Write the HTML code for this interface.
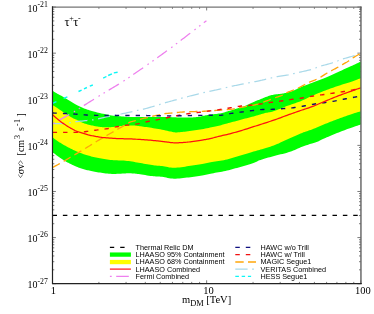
<!DOCTYPE html>
<html><head><meta charset="utf-8"><title>chart</title>
<style>
html,body{margin:0;padding:0;background:#fff;}
#c{position:relative;width:374px;height:314px;overflow:hidden;background:#fff;font-family:"Liberation Serif",serif;color:#000;}
.yt{position:absolute;right:326.2px;font-size:10px;line-height:12px;white-space:nowrap;}
.sup{font-size:7.8px;position:relative;top:-4.8px;}
.xt{position:absolute;top:285.1px;width:20px;text-align:center;font-size:10.5px;line-height:12px;}
.lg{position:absolute;font-family:"Liberation Sans",sans-serif;font-size:7.26px;line-height:9px;white-space:nowrap;}
#xl{position:absolute;left:156.6px;width:100px;text-align:center;top:294px;font-size:10.5px;line-height:12px;}
#xl sub{font-size:8.4px;vertical-align:baseline;position:relative;top:2.8px;}
#yl{position:absolute;left:15px;top:177.6px;width:100px;height:12px;font-size:10px;line-height:12px;transform-origin:0 0;transform:rotate(-90deg);white-space:nowrap;}
#yl sup{font-size:8px;vertical-align:baseline;position:relative;top:-4.2px;line-height:0;}
#t{position:absolute;left:0;top:0;width:374px;height:314px;will-change:transform;}
.ab{display:inline-block;width:3.7px;transform:scaleX(0.66);transform-origin:0 50%;}
#tau{position:absolute;left:64.4px;top:15.6px;font-size:12.5px;line-height:12px;}
#tau sup{font-size:8px;vertical-align:baseline;position:relative;top:-5px;line-height:0;margin-left:-0.3px;margin-right:-0.3px;}
</style></head><body>
<div id="c">
<svg width="374" height="314" viewBox="0 0 374 314" style="position:absolute;left:0;top:0">
<path d="M52.50,283.7 v-3.4 M52.50,7.05 v3.4 M98.90,283.7 v-1.8 M98.90,7.05 v1.8 M126.05,283.7 v-1.8 M126.05,7.05 v1.8 M145.31,283.7 v-1.8 M145.31,7.05 v1.8 M160.25,283.7 v-1.8 M160.25,7.05 v1.8 M172.45,283.7 v-1.8 M172.45,7.05 v1.8 M182.77,283.7 v-1.8 M182.77,7.05 v1.8 M191.71,283.7 v-1.8 M191.71,7.05 v1.8 M199.60,283.7 v-1.8 M199.60,7.05 v1.8 M206.65,283.7 v-3.4 M206.65,7.05 v3.4 M253.05,283.7 v-1.8 M253.05,7.05 v1.8 M280.20,283.7 v-1.8 M280.20,7.05 v1.8 M299.46,283.7 v-1.8 M299.46,7.05 v1.8 M314.40,283.7 v-1.8 M314.40,7.05 v1.8 M326.60,283.7 v-1.8 M326.60,7.05 v1.8 M336.92,283.7 v-1.8 M336.92,7.05 v1.8 M345.86,283.7 v-1.8 M345.86,7.05 v1.8 M353.75,283.7 v-1.8 M353.75,7.05 v1.8 M360.8,283.7 v-3.4 M360.8,7.05 v3.4 M52.5,283.70 h3.4 M360.8,283.70 h-3.4 M52.5,269.82 h1.8 M360.8,269.82 h-1.8 M52.5,261.70 h1.8 M360.8,261.70 h-1.8 M52.5,255.94 h1.8 M360.8,255.94 h-1.8 M52.5,251.47 h1.8 M360.8,251.47 h-1.8 M52.5,247.82 h1.8 M360.8,247.82 h-1.8 M52.5,244.73 h1.8 M360.8,244.73 h-1.8 M52.5,242.06 h1.8 M360.8,242.06 h-1.8 M52.5,239.70 h1.8 M360.8,239.70 h-1.8 M52.5,237.59 h3.4 M360.8,237.59 h-3.4 M52.5,223.71 h1.8 M360.8,223.71 h-1.8 M52.5,215.59 h1.8 M360.8,215.59 h-1.8 M52.5,209.83 h1.8 M360.8,209.83 h-1.8 M52.5,205.36 h1.8 M360.8,205.36 h-1.8 M52.5,201.71 h1.8 M360.8,201.71 h-1.8 M52.5,198.63 h1.8 M360.8,198.63 h-1.8 M52.5,195.95 h1.8 M360.8,195.95 h-1.8 M52.5,193.59 h1.8 M360.8,193.59 h-1.8 M52.5,191.48 h3.4 M360.8,191.48 h-3.4 M52.5,177.60 h1.8 M360.8,177.60 h-1.8 M52.5,169.48 h1.8 M360.8,169.48 h-1.8 M52.5,163.72 h1.8 M360.8,163.72 h-1.8 M52.5,159.25 h1.8 M360.8,159.25 h-1.8 M52.5,155.60 h1.8 M360.8,155.60 h-1.8 M52.5,152.52 h1.8 M360.8,152.52 h-1.8 M52.5,149.84 h1.8 M360.8,149.84 h-1.8 M52.5,147.48 h1.8 M360.8,147.48 h-1.8 M52.5,145.38 h3.4 M360.8,145.38 h-3.4 M52.5,131.50 h1.8 M360.8,131.50 h-1.8 M52.5,123.38 h1.8 M360.8,123.38 h-1.8 M52.5,117.62 h1.8 M360.8,117.62 h-1.8 M52.5,113.15 h1.8 M360.8,113.15 h-1.8 M52.5,109.50 h1.8 M360.8,109.50 h-1.8 M52.5,106.41 h1.8 M360.8,106.41 h-1.8 M52.5,103.74 h1.8 M360.8,103.74 h-1.8 M52.5,101.38 h1.8 M360.8,101.38 h-1.8 M52.5,99.27 h3.4 M360.8,99.27 h-3.4 M52.5,85.39 h1.8 M360.8,85.39 h-1.8 M52.5,77.27 h1.8 M360.8,77.27 h-1.8 M52.5,71.51 h1.8 M360.8,71.51 h-1.8 M52.5,67.04 h1.8 M360.8,67.04 h-1.8 M52.5,63.39 h1.8 M360.8,63.39 h-1.8 M52.5,60.30 h1.8 M360.8,60.30 h-1.8 M52.5,57.63 h1.8 M360.8,57.63 h-1.8 M52.5,55.27 h1.8 M360.8,55.27 h-1.8 M52.5,53.16 h3.4 M360.8,53.16 h-3.4 M52.5,39.28 h1.8 M360.8,39.28 h-1.8 M52.5,31.16 h1.8 M360.8,31.16 h-1.8 M52.5,25.40 h1.8 M360.8,25.40 h-1.8 M52.5,20.93 h1.8 M360.8,20.93 h-1.8 M52.5,17.28 h1.8 M360.8,17.28 h-1.8 M52.5,14.19 h1.8 M360.8,14.19 h-1.8 M52.5,11.52 h1.8 M360.8,11.52 h-1.8 M52.5,9.16 h1.8 M360.8,9.16 h-1.8 M52.5,7.05 h3.4 M360.8,7.05 h-3.4" stroke="#222" stroke-width="0.6" fill="none"/>
<path d="M52.50,90.80 L52.83,91.00 L53.26,91.27 L53.77,91.58 L54.35,91.93 L54.98,92.31 L55.64,92.71 L56.32,93.11 L57.00,93.50 L57.71,93.90 L58.46,94.31 L59.25,94.73 L60.07,95.17 L60.90,95.62 L61.74,96.07 L62.58,96.53 L63.40,97.00 L64.21,97.48 L65.03,97.96 L65.86,98.46 L66.68,98.97 L67.51,99.48 L68.34,99.99 L69.17,100.50 L70.00,101.00 L70.82,101.50 L71.63,102.00 L72.43,102.51 L73.24,103.01 L74.07,103.51 L74.91,104.01 L75.79,104.51 L76.70,105.00 L77.68,105.50 L78.74,106.02 L79.84,106.54 L80.95,107.05 L82.05,107.54 L83.11,108.01 L84.10,108.43 L85.00,108.80 L85.77,109.10 L86.43,109.34 L87.01,109.53 L87.55,109.69 L88.09,109.85 L88.67,110.00 L89.33,110.18 L90.10,110.40 L90.95,110.65 L91.83,110.92 L92.76,111.19 L93.74,111.48 L94.78,111.78 L95.90,112.08 L97.10,112.39 L98.40,112.70 L99.82,113.03 L101.37,113.38 L103.02,113.74 L104.73,114.11 L106.49,114.47 L108.25,114.81 L110.00,115.13 L111.70,115.40 L113.39,115.64 L115.13,115.84 L116.87,116.03 L118.61,116.19 L120.33,116.34 L121.99,116.47 L123.59,116.59 L125.10,116.70 L126.47,116.80 L127.70,116.88 L128.84,116.94 L129.95,116.99 L131.07,117.03 L132.25,117.06 L133.54,117.08 L135.00,117.10 L136.60,117.11 L138.27,117.11 L140.03,117.09 L141.87,117.07 L143.78,117.04 L145.78,117.02 L147.85,117.01 L150.00,117.00 L152.31,117.00 L154.80,117.00 L157.42,117.01 L160.10,117.01 L162.76,117.02 L165.35,117.04 L167.78,117.07 L170.00,117.10 L171.99,117.15 L173.82,117.22 L175.51,117.30 L177.12,117.39 L178.67,117.47 L180.21,117.54 L181.77,117.58 L183.40,117.60 L185.11,117.59 L186.89,117.56 L188.68,117.52 L190.47,117.46 L192.20,117.39 L193.84,117.30 L195.35,117.21 L196.70,117.10 L197.85,116.98 L198.84,116.83 L199.70,116.67 L200.46,116.49 L201.18,116.32 L201.88,116.14 L202.61,115.96 L203.40,115.80 L204.22,115.65 L205.00,115.49 L205.77,115.34 L206.55,115.19 L207.35,115.05 L208.20,114.90 L209.11,114.75 L210.10,114.60 L211.19,114.46 L212.39,114.33 L213.64,114.20 L214.94,114.07 L216.26,113.93 L217.56,113.78 L218.81,113.60 L220.00,113.40 L221.09,113.18 L222.09,112.94 L223.04,112.69 L223.99,112.42 L224.96,112.14 L225.99,111.82 L227.13,111.48 L228.40,111.10 L229.87,110.67 L231.54,110.19 L233.32,109.67 L235.16,109.12 L236.98,108.58 L238.72,108.05 L240.32,107.55 L241.70,107.10 L242.85,106.70 L243.84,106.34 L244.70,106.01 L245.46,105.69 L246.18,105.38 L246.88,105.07 L247.61,104.75 L248.40,104.40 L249.25,104.02 L250.12,103.62 L250.99,103.21 L251.86,102.80 L252.72,102.39 L253.55,102.00 L254.35,101.63 L255.10,101.30 L255.79,101.01 L256.41,100.76 L256.99,100.53 L257.55,100.33 L258.11,100.12 L258.69,99.90 L259.31,99.67 L260.00,99.40 L260.75,99.10 L261.55,98.76 L262.38,98.42 L263.24,98.06 L264.11,97.70 L264.98,97.34 L265.85,97.01 L266.70,96.70 L267.54,96.41 L268.38,96.12 L269.22,95.85 L270.06,95.58 L270.89,95.33 L271.73,95.10 L272.57,94.89 L273.40,94.70 L274.23,94.55 L275.05,94.43 L275.88,94.33 L276.70,94.25 L277.52,94.18 L278.35,94.10 L279.17,94.01 L280.00,93.90 L280.83,93.77 L281.67,93.65 L282.51,93.51 L283.34,93.38 L284.18,93.23 L285.02,93.07 L285.86,92.89 L286.70,92.70 L287.54,92.50 L288.38,92.29 L289.21,92.07 L290.05,91.83 L290.89,91.58 L291.72,91.31 L292.56,91.02 L293.40,90.70 L294.22,90.35 L295.00,89.98 L295.77,89.58 L296.55,89.16 L297.35,88.73 L298.20,88.29 L299.11,87.85 L300.10,87.40 L301.15,86.96 L302.22,86.53 L303.34,86.10 L304.51,85.66 L305.74,85.19 L307.06,84.70 L308.48,84.17 L310.00,83.60 L311.68,82.97 L313.51,82.30 L315.46,81.58 L317.49,80.84 L319.54,80.08 L321.57,79.32 L323.54,78.55 L325.40,77.80 L327.16,77.05 L328.87,76.29 L330.54,75.53 L332.17,74.76 L333.80,73.99 L335.42,73.22 L337.05,72.46 L338.70,71.70 L340.40,70.93 L342.15,70.15 L343.92,69.36 L345.69,68.58 L347.41,67.81 L349.08,67.07 L350.65,66.36 L352.10,65.70 L353.47,65.06 L354.81,64.43 L356.09,63.81 L357.29,63.23 L358.38,62.69 L359.35,62.21 L360.16,61.81 L360.80,61.50 L360.80,124.50 L360.16,124.71 L359.35,124.97 L358.38,125.28 L357.29,125.64 L356.09,126.03 L354.81,126.46 L353.47,126.92 L352.10,127.40 L350.65,127.92 L349.08,128.49 L347.41,129.10 L345.69,129.74 L343.92,130.40 L342.15,131.07 L340.40,131.74 L338.70,132.40 L337.00,133.07 L335.25,133.78 L333.48,134.50 L331.72,135.22 L330.00,135.93 L328.36,136.63 L326.81,137.29 L325.40,137.90 L324.12,138.48 L322.94,139.04 L321.86,139.58 L320.85,140.09 L319.90,140.58 L319.01,141.02 L318.14,141.43 L317.30,141.80 L316.53,142.10 L315.89,142.32 L315.31,142.49 L314.76,142.63 L314.20,142.77 L313.58,142.93 L312.86,143.13 L312.00,143.40 L311.00,143.73 L309.90,144.09 L308.72,144.47 L307.48,144.89 L306.18,145.33 L304.84,145.80 L303.47,146.29 L302.10,146.80 L300.71,147.36 L299.30,147.96 L297.85,148.60 L296.37,149.26 L294.85,149.93 L293.28,150.58 L291.67,151.21 L290.00,151.80 L288.25,152.35 L286.41,152.88 L284.50,153.39 L282.56,153.89 L280.61,154.37 L278.68,154.85 L276.80,155.33 L275.00,155.80 L273.26,156.27 L271.54,156.72 L269.84,157.16 L268.18,157.60 L266.56,158.04 L264.99,158.48 L263.46,158.93 L262.00,159.40 L260.64,159.88 L259.39,160.37 L258.21,160.87 L257.07,161.38 L255.93,161.88 L254.75,162.39 L253.48,162.90 L252.10,163.40 L250.59,163.90 L248.99,164.41 L247.33,164.92 L245.61,165.43 L243.87,165.93 L242.12,166.43 L240.39,166.92 L238.70,167.40 L237.03,167.88 L235.37,168.36 L233.71,168.83 L232.05,169.30 L230.39,169.76 L228.73,170.19 L227.07,170.61 L225.40,171.00 L223.71,171.36 L221.98,171.69 L220.23,172.01 L218.49,172.30 L216.77,172.58 L215.11,172.86 L213.51,173.13 L212.00,173.40 L210.62,173.67 L209.36,173.93 L208.18,174.18 L207.05,174.43 L205.92,174.67 L204.74,174.91 L203.48,175.15 L202.10,175.40 L200.60,175.65 L199.03,175.92 L197.39,176.18 L195.70,176.44 L193.97,176.70 L192.22,176.95 L190.46,177.18 L188.70,177.40 L186.91,177.62 L185.05,177.85 L183.16,178.08 L181.26,178.29 L179.37,178.48 L177.52,178.62 L175.72,178.70 L174.00,178.70 L172.36,178.61 L170.76,178.42 L169.21,178.17 L167.70,177.88 L166.23,177.57 L164.79,177.27 L163.38,177.00 L162.00,176.80 L160.69,176.66 L159.46,176.57 L158.29,176.51 L157.14,176.46 L155.98,176.40 L154.77,176.34 L153.49,176.24 L152.10,176.10 L150.55,175.90 L148.84,175.66 L147.04,175.39 L145.20,175.10 L143.39,174.81 L141.66,174.54 L140.08,174.30 L138.70,174.10 L137.54,173.95 L136.55,173.82 L135.69,173.71 L134.92,173.62 L134.21,173.55 L133.51,173.50 L132.79,173.45 L132.00,173.40 L131.22,173.36 L130.50,173.34 L129.82,173.33 L129.12,173.33 L128.37,173.33 L127.53,173.35 L126.55,173.37 L125.40,173.40 L124.04,173.45 L122.50,173.53 L120.81,173.63 L119.04,173.73 L117.22,173.82 L115.41,173.89 L113.65,173.92 L112.00,173.90 L110.42,173.83 L108.85,173.71 L107.31,173.57 L105.78,173.39 L104.28,173.20 L102.82,173.00 L101.39,172.80 L100.00,172.60 L98.64,172.40 L97.31,172.19 L96.01,171.96 L94.74,171.73 L93.52,171.50 L92.33,171.26 L91.19,171.03 L90.10,170.80 L89.07,170.58 L88.11,170.36 L87.20,170.14 L86.33,169.92 L85.48,169.70 L84.65,169.48 L83.83,169.24 L83.00,169.00 L82.18,168.75 L81.38,168.50 L80.60,168.24 L79.83,167.98 L79.06,167.71 L78.28,167.42 L77.50,167.12 L76.70,166.80 L75.88,166.46 L75.05,166.10 L74.21,165.73 L73.37,165.34 L72.52,164.94 L71.68,164.53 L70.84,164.12 L70.00,163.70 L69.17,163.28 L68.33,162.85 L67.49,162.41 L66.65,161.96 L65.82,161.51 L65.00,161.05 L64.19,160.58 L63.40,160.10 L62.62,159.61 L61.85,159.11 L61.10,158.59 L60.35,158.07 L59.62,157.55 L58.90,157.03 L58.19,156.51 L57.50,156.00 L56.80,155.47 L56.07,154.90 L55.34,154.32 L54.63,153.74 L53.97,153.20 L53.38,152.72 L52.88,152.31 L52.50,152.00 Z" fill="#00ff00"/>
<path d="M52.50,105.00 L52.81,105.19 L53.21,105.44 L53.69,105.74 L54.23,106.07 L54.80,106.42 L55.39,106.79 L55.96,107.15 L56.50,107.50 L57.02,107.84 L57.53,108.19 L58.05,108.54 L58.57,108.89 L59.11,109.26 L59.65,109.63 L60.22,110.01 L60.80,110.40 L61.40,110.80 L62.02,111.21 L62.66,111.63 L63.31,112.05 L63.97,112.48 L64.64,112.92 L65.32,113.36 L66.00,113.80 L66.69,114.26 L67.41,114.74 L68.13,115.23 L68.86,115.72 L69.59,116.20 L70.31,116.67 L71.02,117.10 L71.70,117.50 L72.35,117.85 L72.96,118.15 L73.55,118.42 L74.14,118.67 L74.73,118.93 L75.35,119.19 L76.00,119.47 L76.70,119.80 L77.45,120.17 L78.22,120.58 L79.02,121.01 L79.84,121.45 L80.70,121.89 L81.57,122.32 L82.47,122.73 L83.40,123.10 L84.37,123.44 L85.40,123.77 L86.47,124.08 L87.55,124.38 L88.63,124.65 L89.70,124.92 L90.73,125.17 L91.70,125.40 L92.61,125.62 L93.49,125.81 L94.33,125.99 L95.16,126.16 L95.97,126.31 L96.77,126.45 L97.58,126.58 L98.40,126.70 L99.23,126.81 L100.05,126.92 L100.88,127.01 L101.70,127.09 L102.52,127.16 L103.35,127.22 L104.17,127.27 L105.00,127.30 L105.83,127.32 L106.67,127.32 L107.51,127.31 L108.34,127.29 L109.18,127.25 L110.02,127.21 L110.86,127.16 L111.70,127.10 L112.54,127.03 L113.38,126.94 L114.21,126.84 L115.05,126.73 L115.89,126.62 L116.73,126.51 L117.56,126.40 L118.40,126.30 L119.25,126.20 L120.12,126.11 L120.99,126.01 L121.86,125.91 L122.72,125.82 L123.55,125.74 L124.35,125.66 L125.10,125.60 L125.80,125.55 L126.45,125.51 L127.06,125.47 L127.66,125.44 L128.23,125.42 L128.81,125.41 L129.40,125.40 L130.00,125.40 L130.60,125.40 L131.16,125.40 L131.72,125.41 L132.28,125.42 L132.87,125.44 L133.51,125.48 L134.21,125.53 L135.00,125.60 L135.85,125.69 L136.75,125.79 L137.69,125.91 L138.68,126.04 L139.74,126.18 L140.88,126.34 L142.09,126.51 L143.40,126.70 L144.83,126.90 L146.38,127.12 L148.03,127.35 L149.74,127.60 L151.50,127.86 L153.26,128.13 L155.00,128.41 L156.70,128.70 L158.42,129.02 L160.21,129.37 L162.04,129.74 L163.85,130.11 L165.60,130.48 L167.24,130.83 L168.72,131.14 L170.00,131.40 L171.03,131.62 L171.82,131.81 L172.45,131.97 L172.97,132.11 L173.46,132.22 L173.97,132.30 L174.56,132.36 L175.30,132.40 L176.14,132.41 L177.01,132.39 L177.90,132.34 L178.85,132.27 L179.86,132.18 L180.94,132.06 L182.12,131.94 L183.40,131.80 L184.81,131.65 L186.36,131.47 L188.00,131.28 L189.72,131.07 L191.48,130.84 L193.25,130.61 L195.00,130.36 L196.70,130.10 L198.39,129.82 L200.12,129.52 L201.87,129.21 L203.61,128.88 L205.33,128.55 L206.99,128.22 L208.59,127.90 L210.10,127.60 L211.52,127.31 L212.86,127.03 L214.13,126.76 L215.36,126.49 L216.55,126.22 L217.71,125.95 L218.86,125.68 L220.00,125.40 L221.09,125.13 L222.09,124.86 L223.04,124.60 L223.99,124.34 L224.96,124.06 L225.99,123.77 L227.13,123.45 L228.40,123.10 L229.83,122.71 L231.38,122.29 L233.02,121.84 L234.74,121.38 L236.49,120.90 L238.25,120.42 L240.00,119.95 L241.70,119.50 L243.39,119.05 L245.12,118.60 L246.87,118.15 L248.61,117.71 L250.33,117.26 L251.99,116.83 L253.59,116.41 L255.10,116.00 L256.52,115.60 L257.86,115.21 L259.13,114.82 L260.36,114.44 L261.55,114.08 L262.71,113.73 L263.86,113.41 L265.00,113.10 L266.09,112.85 L267.09,112.65 L268.04,112.49 L268.99,112.34 L269.96,112.18 L270.99,111.96 L272.13,111.68 L273.40,111.30 L274.83,110.81 L276.38,110.23 L278.02,109.58 L279.74,108.88 L281.49,108.16 L283.25,107.44 L285.00,106.75 L286.70,106.10 L288.38,105.49 L290.08,104.91 L291.78,104.34 L293.49,103.77 L295.18,103.20 L296.85,102.62 L298.50,102.02 L300.10,101.40 L301.65,100.75 L303.15,100.08 L304.61,99.40 L306.05,98.70 L307.49,98.00 L308.95,97.29 L310.45,96.59 L312.00,95.90 L313.60,95.21 L315.25,94.51 L316.92,93.80 L318.61,93.10 L320.32,92.40 L322.02,91.72 L323.72,91.05 L325.40,90.40 L327.07,89.77 L328.73,89.16 L330.39,88.56 L332.05,87.98 L333.71,87.40 L335.37,86.83 L337.03,86.26 L338.70,85.70 L340.40,85.14 L342.15,84.57 L343.92,84.01 L345.69,83.46 L347.41,82.91 L349.08,82.39 L350.65,81.88 L352.10,81.40 L353.47,80.93 L354.81,80.45 L356.09,79.98 L357.29,79.53 L358.38,79.12 L359.35,78.75 L360.16,78.44 L360.80,78.20 L360.80,111.20 L360.16,111.40 L359.35,111.66 L358.38,111.96 L357.29,112.31 L356.09,112.69 L354.81,113.10 L353.47,113.54 L352.10,114.00 L350.65,114.49 L349.08,115.03 L347.41,115.61 L345.69,116.21 L343.92,116.82 L342.15,117.45 L340.40,118.08 L338.70,118.70 L337.03,119.31 L335.37,119.94 L333.71,120.56 L332.05,121.19 L330.39,121.83 L328.73,122.48 L327.07,123.14 L325.40,123.80 L323.71,124.49 L321.97,125.21 L320.23,125.96 L318.49,126.70 L316.77,127.43 L315.11,128.14 L313.51,128.80 L312.00,129.40 L310.62,129.92 L309.36,130.37 L308.18,130.77 L307.05,131.14 L305.92,131.51 L304.74,131.91 L303.48,132.37 L302.10,132.90 L300.59,133.51 L298.99,134.18 L297.33,134.89 L295.61,135.64 L293.87,136.40 L292.12,137.17 L290.39,137.94 L288.70,138.70 L287.03,139.46 L285.37,140.24 L283.71,141.04 L282.05,141.84 L280.39,142.62 L278.73,143.39 L277.07,144.12 L275.40,144.80 L273.71,145.44 L271.97,146.06 L270.23,146.64 L268.49,147.21 L266.77,147.74 L265.11,148.25 L263.51,148.74 L262.00,149.20 L260.62,149.62 L259.36,149.98 L258.18,150.31 L257.05,150.62 L255.92,150.93 L254.74,151.25 L253.48,151.60 L252.10,152.00 L250.59,152.44 L248.99,152.92 L247.33,153.42 L245.61,153.94 L243.87,154.46 L242.12,154.99 L240.39,155.50 L238.70,156.00 L237.03,156.49 L235.37,157.00 L233.71,157.51 L232.05,158.01 L230.39,158.49 L228.73,158.96 L227.07,159.40 L225.40,159.80 L223.71,160.16 L221.98,160.49 L220.23,160.79 L218.49,161.06 L216.77,161.33 L215.11,161.58 L213.51,161.84 L212.00,162.10 L210.62,162.36 L209.36,162.62 L208.18,162.87 L207.05,163.12 L205.92,163.36 L204.74,163.61 L203.48,163.85 L202.10,164.10 L200.60,164.35 L199.03,164.61 L197.39,164.86 L195.70,165.12 L193.97,165.37 L192.22,165.62 L190.46,165.86 L188.70,166.10 L186.91,166.35 L185.05,166.63 L183.16,166.91 L181.26,167.18 L179.37,167.42 L177.52,167.62 L175.72,167.75 L174.00,167.80 L172.36,167.75 L170.76,167.60 L169.21,167.38 L167.70,167.12 L166.23,166.84 L164.79,166.56 L163.38,166.30 L162.00,166.10 L160.69,165.95 L159.46,165.83 L158.29,165.74 L157.14,165.64 L155.98,165.55 L154.77,165.43 L153.49,165.29 L152.10,165.10 L150.59,164.86 L148.99,164.59 L147.33,164.28 L145.61,163.96 L143.87,163.63 L142.12,163.30 L140.39,162.99 L138.70,162.70 L137.03,162.42 L135.37,162.14 L133.71,161.86 L132.05,161.59 L130.39,161.33 L128.73,161.09 L127.07,160.88 L125.40,160.70 L123.72,160.57 L122.02,160.48 L120.32,160.43 L118.62,160.39 L116.93,160.35 L115.25,160.30 L113.61,160.22 L112.00,160.10 L110.42,159.94 L108.85,159.74 L107.31,159.53 L105.78,159.30 L104.28,159.06 L102.82,158.81 L101.39,158.55 L100.00,158.30 L98.64,158.04 L97.31,157.78 L96.01,157.50 L94.74,157.22 L93.52,156.94 L92.33,156.66 L91.19,156.38 L90.10,156.10 L89.07,155.83 L88.11,155.56 L87.20,155.29 L86.33,155.02 L85.48,154.75 L84.65,154.47 L83.83,154.19 L83.00,153.90 L82.18,153.61 L81.38,153.31 L80.60,153.01 L79.83,152.71 L79.06,152.39 L78.28,152.07 L77.50,151.74 L76.70,151.40 L75.88,151.04 L75.05,150.68 L74.21,150.30 L73.37,149.92 L72.52,149.53 L71.68,149.12 L70.84,148.72 L70.00,148.30 L69.17,147.87 L68.33,147.44 L67.49,146.99 L66.65,146.54 L65.82,146.08 L65.00,145.62 L64.19,145.16 L63.40,144.70 L62.62,144.24 L61.85,143.78 L61.10,143.32 L60.35,142.86 L59.62,142.39 L58.90,141.93 L58.19,141.46 L57.50,141.00 L56.80,140.51 L56.07,139.99 L55.34,139.45 L54.63,138.92 L53.97,138.42 L53.38,137.96 L52.88,137.59 L52.50,137.30 Z" fill="#ffff00"/>
<path d="M52.50,123.60 L53.53,123.60 L54.95,123.60 L56.65,123.60 L58.51,123.61 L60.41,123.60 L62.24,123.58 L63.88,123.55 L65.20,123.50 L66.22,123.43 L67.06,123.33 L67.76,123.22 L68.36,123.10 L68.90,122.97 L69.42,122.84 L69.97,122.72 L70.60,122.60 L71.23,122.49 L71.80,122.38 L72.34,122.28 L72.89,122.18 L73.50,122.07 L74.19,121.95 L75.01,121.83 L76.00,121.70 L77.22,121.55 L78.67,121.39 L80.27,121.21 L81.95,121.03 L83.63,120.85 L85.23,120.69 L86.68,120.53 L87.90,120.40 L88.88,120.29 L89.70,120.21 L90.39,120.15 L90.99,120.09 L91.54,120.03 L92.08,119.97 L92.66,119.89 L93.30,119.80 L93.97,119.70 L94.60,119.59 L95.23,119.48 L95.86,119.36 L96.53,119.23 L97.27,119.08 L98.08,118.90 L99.00,118.70 L100.03,118.46 L101.15,118.19 L102.34,117.89 L103.60,117.57 L104.91,117.25 L106.25,116.92 L107.62,116.60 L109.00,116.30 L110.42,116.01 L111.89,115.72 L113.41,115.43 L114.96,115.15 L116.52,114.87 L118.08,114.58 L119.61,114.29 L121.10,114.00 L122.60,113.70 L124.15,113.38 L125.71,113.05 L127.25,112.73 L128.73,112.42 L130.12,112.12 L131.39,111.84 L132.50,111.60 L133.42,111.39 L134.16,111.22 L134.77,111.06 L135.29,110.92 L135.77,110.80 L136.25,110.67 L136.78,110.54 L137.40,110.40 L138.06,110.26 L138.70,110.15 L139.34,110.04 L140.00,109.93 L140.71,109.80 L141.50,109.64 L142.39,109.45 L143.40,109.20 L144.60,108.88 L145.99,108.50 L147.51,108.08 L149.09,107.62 L150.67,107.17 L152.17,106.73 L153.54,106.34 L154.70,106.00 L155.65,105.72 L156.44,105.49 L157.12,105.29 L157.72,105.11 L158.27,104.94 L158.81,104.77 L159.37,104.59 L160.00,104.40 L160.63,104.20 L161.22,104.01 L161.79,103.82 L162.37,103.63 L162.99,103.43 L163.68,103.21 L164.48,102.97 L165.40,102.70 L166.45,102.40 L167.60,102.08 L168.84,101.74 L170.16,101.38 L171.55,101.01 L172.99,100.62 L174.48,100.21 L176.00,99.80 L177.58,99.37 L179.24,98.91 L180.96,98.44 L182.72,97.95 L184.53,97.46 L186.35,96.96 L188.18,96.48 L190.00,96.00 L191.86,95.52 L193.80,95.03 L195.77,94.53 L197.75,94.04 L199.70,93.57 L201.58,93.11 L203.36,92.69 L205.00,92.30 L206.52,91.95 L207.96,91.64 L209.32,91.36 L210.61,91.09 L211.81,90.85 L212.95,90.62 L214.01,90.41 L215.00,90.20 L215.88,90.01 L216.64,89.84 L217.30,89.70 L217.89,89.56 L218.46,89.43 L219.03,89.30 L219.63,89.16 L220.30,89.00 L221.03,88.83 L221.79,88.64 L222.56,88.45 L223.35,88.26 L224.14,88.06 L224.91,87.87 L225.67,87.68 L226.40,87.50 L227.08,87.33 L227.72,87.17 L228.33,87.01 L228.93,86.85 L229.55,86.69 L230.20,86.53 L230.91,86.37 L231.70,86.20 L232.56,86.03 L233.46,85.85 L234.40,85.68 L235.39,85.50 L236.41,85.32 L237.47,85.12 L238.57,84.92 L239.70,84.70 L240.88,84.47 L242.12,84.21 L243.41,83.95 L244.73,83.68 L246.06,83.41 L247.39,83.13 L248.71,82.86 L250.00,82.60 L251.30,82.34 L252.63,82.07 L253.98,81.81 L255.31,81.54 L256.61,81.29 L257.84,81.04 L258.98,80.81 L260.00,80.60 L260.88,80.41 L261.65,80.25 L262.31,80.10 L262.92,79.96 L263.49,79.83 L264.06,79.70 L264.65,79.55 L265.30,79.40 L266.00,79.23 L266.71,79.06 L267.44,78.88 L268.17,78.70 L268.90,78.52 L269.61,78.34 L270.32,78.17 L271.00,78.00 L271.61,77.84 L272.14,77.70 L272.62,77.56 L273.11,77.42 L273.64,77.29 L274.27,77.14 L275.04,76.98 L276.00,76.80 L277.21,76.60 L278.66,76.38 L280.28,76.15 L281.98,75.91 L283.68,75.66 L285.30,75.43 L286.77,75.21 L288.00,75.00 L288.99,74.81 L289.81,74.64 L290.51,74.48 L291.11,74.32 L291.67,74.17 L292.20,74.01 L292.77,73.86 L293.40,73.70 L294.04,73.55 L294.61,73.41 L295.17,73.27 L295.74,73.13 L296.35,72.98 L297.04,72.82 L297.85,72.62 L298.80,72.40 L299.96,72.13 L301.33,71.82 L302.83,71.49 L304.41,71.13 L305.98,70.77 L307.48,70.42 L308.84,70.10 L310.00,69.80 L310.94,69.54 L311.74,69.30 L312.42,69.07 L313.01,68.86 L313.56,68.65 L314.11,68.44 L314.67,68.22 L315.30,68.00 L315.93,67.78 L316.50,67.56 L317.06,67.35 L317.62,67.13 L318.24,66.90 L318.93,66.66 L319.74,66.40 L320.70,66.10 L321.87,65.76 L323.25,65.38 L324.76,64.98 L326.35,64.56 L327.94,64.13 L329.45,63.73 L330.83,63.34 L332.00,63.00 L332.96,62.70 L333.77,62.42 L334.46,62.17 L335.07,61.93 L335.64,61.70 L336.20,61.47 L336.77,61.24 L337.40,61.00 L338.03,60.76 L338.59,60.53 L339.13,60.31 L339.67,60.08 L340.27,59.85 L340.95,59.59 L341.75,59.31 L342.70,59.00 L343.87,58.64 L345.26,58.25 L346.79,57.82 L348.39,57.38 L350.00,56.94 L351.53,56.50 L352.92,56.08 L354.10,55.70 L355.10,55.33 L356.00,54.96 L356.80,54.59 L357.51,54.24 L358.13,53.92 L358.67,53.63 L359.12,53.39 L359.50,53.20" fill="none" stroke="#a9d9e9" stroke-width="1.25" stroke-dasharray="12.2,4.6,1.6,4.55" stroke-dashoffset="0.00"/>
<path d="M52.50,124.20 L52.95,123.92 L53.52,123.56 L54.20,123.13 L54.98,122.64 L55.82,122.12 L56.74,121.56 L57.70,120.98 L58.70,120.40 L59.80,119.78 L61.04,119.09 L62.37,118.36 L63.75,117.61 L65.12,116.87 L66.43,116.15 L67.64,115.49 L68.70,114.90 L69.60,114.39 L70.38,113.94 L71.08,113.53 L71.71,113.15 L72.31,112.79 L72.89,112.44 L73.48,112.08 L74.10,111.70 L74.75,111.31 L75.39,110.91 L76.04,110.52 L76.67,110.13 L77.29,109.74 L77.91,109.35 L78.51,108.97 L79.10,108.60 L79.63,108.26 L80.08,107.97 L80.49,107.69 L80.91,107.41 L81.36,107.11 L81.91,106.75 L82.57,106.33 L83.40,105.80 L84.45,105.14 L85.72,104.36 L87.13,103.48 L88.61,102.57 L90.10,101.65 L91.52,100.77 L92.81,99.98 L93.90,99.30 L94.78,98.75 L95.53,98.28 L96.16,97.88 L96.72,97.52 L97.23,97.19 L97.73,96.87 L98.24,96.55 L98.80,96.20 L99.39,95.84 L99.96,95.49 L100.53,95.14 L101.09,94.80 L101.65,94.46 L102.22,94.11 L102.80,93.76 L103.40,93.40 L103.98,93.05 L104.51,92.72 L105.04,92.40 L105.58,92.07 L106.17,91.71 L106.83,91.31 L107.60,90.84 L108.50,90.30 L109.60,89.64 L110.90,88.87 L112.32,88.01 L113.81,87.12 L115.29,86.24 L116.70,85.40 L117.96,84.64 L119.00,84.00 L119.81,83.50 L120.45,83.09 L120.95,82.75 L121.38,82.47 L121.76,82.21 L122.14,81.94 L122.57,81.65 L123.10,81.30 L123.71,80.91 L124.37,80.49 L125.05,80.05 L125.75,79.61 L126.45,79.17 L127.13,78.73 L127.79,78.31 L128.40,77.90 L128.93,77.54 L129.36,77.24 L129.75,76.96 L130.14,76.68 L130.56,76.37 L131.07,76.00 L131.70,75.56 L132.50,75.00 L133.53,74.29 L134.78,73.45 L136.17,72.50 L137.63,71.51 L139.10,70.52 L140.49,69.57 L141.75,68.72 L142.80,68.00 L143.63,67.43 L144.31,66.95 L144.87,66.56 L145.36,66.21 L145.79,65.90 L146.22,65.59 L146.68,65.27 L147.20,64.90 L147.76,64.51 L148.33,64.11 L148.91,63.72 L149.48,63.32 L150.06,62.92 L150.64,62.52 L151.22,62.11 L151.80,61.70 L152.36,61.30 L152.88,60.93 L153.39,60.56 L153.91,60.18 L154.45,59.78 L155.06,59.34 L155.73,58.86 L156.50,58.30 L157.37,57.68 L158.32,57.00 L159.34,56.27 L160.42,55.50 L161.54,54.70 L162.68,53.88 L163.84,53.04 L165.00,52.20 L166.18,51.34 L167.39,50.45 L168.64,49.53 L169.91,48.59 L171.18,47.65 L172.46,46.69 L173.74,45.74 L175.00,44.80 L176.25,43.86 L177.50,42.92 L178.75,41.97 L180.00,41.02 L181.25,40.07 L182.50,39.11 L183.75,38.16 L185.00,37.20 L186.24,36.25 L187.47,35.31 L188.69,34.37 L189.91,33.43 L191.15,32.47 L192.40,31.50 L193.68,30.52 L195.00,29.50 L196.44,28.39 L198.02,27.17 L199.67,25.89 L201.33,24.62 L202.90,23.40 L204.32,22.31 L205.51,21.39 L206.40,20.70" fill="none" stroke="#ee80ee" stroke-width="1.25" stroke-dasharray="12,5.3,1.6,4.3,1.6,4.4" stroke-dashoffset="21.93"/>
<path d="M52.50,167.50 L53.05,167.20 L53.76,166.82 L54.59,166.38 L55.54,165.87 L56.57,165.31 L57.67,164.70 L58.82,164.06 L60.00,163.40 L61.24,162.69 L62.58,161.91 L63.99,161.08 L65.46,160.21 L66.95,159.33 L68.46,158.44 L69.95,157.56 L71.40,156.70 L72.83,155.86 L74.27,155.02 L75.71,154.18 L77.15,153.34 L78.58,152.51 L80.01,151.67 L81.41,150.83 L82.80,150.00 L84.19,149.15 L85.60,148.28 L87.01,147.40 L88.40,146.53 L89.75,145.68 L91.05,144.86 L92.27,144.10 L93.40,143.40 L94.37,142.80 L95.16,142.31 L95.86,141.88 L96.51,141.48 L97.18,141.07 L97.94,140.61 L98.86,140.07 L100.00,139.40 L101.39,138.59 L102.98,137.67 L104.72,136.66 L106.55,135.61 L108.42,134.53 L110.27,133.47 L112.05,132.45 L113.70,131.50 L115.28,130.60 L116.86,129.69 L118.43,128.80 L119.95,127.93 L121.40,127.10 L122.76,126.33 L124.00,125.63 L125.10,125.00 L126.02,124.46 L126.77,124.01 L127.40,123.62 L127.93,123.29 L128.42,122.99 L128.90,122.72 L129.41,122.46 L130.00,122.20 L130.64,121.95 L131.29,121.74 L131.95,121.55 L132.62,121.38 L133.29,121.21 L133.96,121.05 L134.63,120.88 L135.30,120.70 L135.96,120.51 L136.60,120.31 L137.23,120.11 L137.88,119.91 L138.53,119.71 L139.21,119.51 L139.93,119.31 L140.70,119.10 L141.54,118.89 L142.47,118.67 L143.44,118.44 L144.44,118.22 L145.42,118.00 L146.36,117.79 L147.23,117.58 L148.00,117.40 L148.64,117.24 L149.17,117.09 L149.62,116.95 L150.04,116.83 L150.45,116.70 L150.89,116.58 L151.39,116.44 L152.00,116.30 L152.72,116.15 L153.52,115.99 L154.37,115.83 L155.26,115.66 L156.16,115.50 L157.05,115.33 L157.91,115.16 L158.70,115.00 L159.42,114.83 L160.08,114.66 L160.71,114.49 L161.32,114.31 L161.94,114.14 L162.60,113.98 L163.31,113.83 L164.10,113.70 L164.98,113.58 L165.92,113.49 L166.91,113.40 L167.94,113.32 L168.99,113.24 L170.05,113.17 L171.09,113.09 L172.10,113.00 L173.09,112.90 L174.06,112.80 L175.03,112.69 L176.01,112.59 L176.98,112.48 L177.97,112.38 L178.97,112.29 L180.00,112.20 L181.03,112.12 L182.04,112.05 L183.06,111.98 L184.09,111.92 L185.16,111.86 L186.27,111.80 L187.45,111.75 L188.70,111.70 L190.07,111.65 L191.56,111.61 L193.13,111.58 L194.74,111.54 L196.34,111.51 L197.90,111.48 L199.36,111.44 L200.70,111.40 L201.88,111.36 L202.95,111.32 L203.93,111.27 L204.86,111.23 L205.78,111.18 L206.72,111.13 L207.71,111.07 L208.80,111.00 L209.96,110.92 L211.16,110.83 L212.39,110.73 L213.66,110.63 L214.95,110.52 L216.27,110.42 L217.62,110.31 L219.00,110.20 L220.45,110.10 L221.98,109.99 L223.57,109.89 L225.17,109.78 L226.76,109.67 L228.28,109.56 L229.71,109.43 L231.00,109.30 L232.14,109.16 L233.16,109.01 L234.09,108.85 L234.95,108.69 L235.78,108.53 L236.62,108.36 L237.48,108.18 L238.40,108.00 L239.35,107.82 L240.28,107.64 L241.21,107.45 L242.15,107.26 L243.12,107.06 L244.15,106.85 L245.23,106.63 L246.40,106.40 L247.70,106.15 L249.15,105.89 L250.69,105.61 L252.26,105.33 L253.81,105.04 L255.29,104.76 L256.63,104.47 L257.80,104.20 L258.76,103.93 L259.56,103.68 L260.24,103.42 L260.84,103.16 L261.41,102.91 L261.98,102.64 L262.60,102.38 L263.30,102.10 L264.10,101.81 L264.95,101.50 L265.84,101.19 L266.74,100.87 L267.63,100.55 L268.49,100.25 L269.28,99.96 L270.00,99.70 L270.60,99.47 L271.10,99.27 L271.52,99.09 L271.92,98.92 L272.33,98.75 L272.78,98.56 L273.33,98.35 L274.00,98.10 L274.84,97.81 L275.81,97.50 L276.88,97.15 L278.00,96.80 L279.12,96.44 L280.19,96.08 L281.16,95.73 L282.00,95.40 L282.67,95.09 L283.22,94.79 L283.67,94.49 L284.07,94.20 L284.47,93.91 L284.90,93.61 L285.39,93.31 L286.00,93.00 L286.73,92.67 L287.55,92.33 L288.44,91.97 L289.36,91.62 L290.29,91.27 L291.19,90.93 L292.04,90.60 L292.80,90.30 L293.47,90.03 L294.06,89.80 L294.59,89.59 L295.11,89.39 L295.62,89.19 L296.15,88.96 L296.74,88.70 L297.40,88.40 L298.14,88.04 L298.95,87.65 L299.79,87.22 L300.67,86.78 L301.55,86.32 L302.43,85.86 L303.29,85.42 L304.10,85.00 L304.88,84.59 L305.65,84.18 L306.40,83.77 L307.14,83.37 L307.87,82.98 L308.59,82.60 L309.30,82.24 L310.00,81.90 L310.70,81.59 L311.38,81.31 L312.06,81.05 L312.73,80.80 L313.38,80.56 L314.03,80.32 L314.67,80.07 L315.30,79.80 L315.91,79.53 L316.49,79.27 L317.05,79.02 L317.61,78.76 L318.17,78.48 L318.75,78.19 L319.35,77.86 L320.00,77.50 L320.70,77.09 L321.44,76.63 L322.21,76.13 L323.00,75.62 L323.79,75.10 L324.56,74.60 L325.30,74.13 L326.00,73.70 L326.64,73.32 L327.22,72.99 L327.77,72.68 L328.31,72.39 L328.85,72.10 L329.41,71.79 L330.03,71.46 L330.70,71.10 L331.46,70.69 L332.29,70.24 L333.17,69.77 L334.07,69.29 L334.98,68.81 L335.85,68.35 L336.66,67.90 L337.40,67.50 L338.04,67.14 L338.59,66.83 L339.10,66.53 L339.57,66.26 L340.04,65.98 L340.53,65.68 L341.08,65.36 L341.70,65.00 L342.42,64.59 L343.21,64.14 L344.05,63.67 L344.92,63.17 L345.78,62.68 L346.62,62.20 L347.40,61.73 L348.10,61.30 L348.70,60.91 L349.21,60.54 L349.66,60.20 L350.08,59.87 L350.51,59.53 L350.97,59.18 L351.49,58.81 L352.10,58.40 L352.84,57.93 L353.70,57.41 L354.62,56.86 L355.58,56.29 L356.51,55.74 L357.39,55.23 L358.17,54.77 L358.80,54.40 L359.29,54.11 L359.68,53.87 L359.98,53.69 L360.22,53.55 L360.40,53.44 L360.55,53.35 L360.68,53.27 L360.80,53.20" fill="none" stroke="#ffa60a" stroke-width="1.3" stroke-dasharray="8.1,4.4" stroke-dashoffset="12.27"/>
<path d="M52.50,132.40 L53.46,132.40 L54.73,132.40 L56.25,132.40 L57.94,132.41 L59.73,132.41 L61.55,132.41 L63.33,132.40 L65.00,132.40 L66.64,132.40 L68.36,132.39 L70.10,132.39 L71.84,132.39 L73.54,132.38 L75.16,132.36 L76.66,132.34 L78.00,132.30 L79.13,132.26 L80.07,132.21 L80.87,132.16 L81.60,132.09 L82.32,132.02 L83.08,131.93 L83.96,131.83 L85.00,131.70 L86.22,131.55 L87.56,131.37 L88.99,131.16 L90.47,130.95 L91.99,130.73 L93.50,130.51 L94.98,130.30 L96.40,130.10 L97.77,129.92 L99.12,129.75 L100.46,129.59 L101.79,129.42 L103.10,129.26 L104.41,129.09 L105.71,128.90 L107.00,128.70 L108.28,128.48 L109.54,128.23 L110.79,127.98 L112.04,127.71 L113.28,127.45 L114.51,127.19 L115.75,126.93 L117.00,126.70 L118.25,126.48 L119.49,126.26 L120.72,126.05 L121.96,125.85 L123.21,125.65 L124.46,125.46 L125.72,125.28 L127.00,125.10 L128.30,124.94 L129.61,124.80 L130.94,124.67 L132.27,124.55 L133.61,124.42 L134.95,124.27 L136.28,124.10 L137.60,123.90 L138.91,123.65 L140.22,123.37 L141.53,123.07 L142.84,122.74 L144.14,122.42 L145.43,122.09 L146.72,121.78 L148.00,121.50 L149.27,121.24 L150.53,120.99 L151.78,120.76 L153.03,120.53 L154.27,120.31 L155.51,120.08 L156.75,119.84 L158.00,119.60 L159.25,119.35 L160.50,119.09 L161.75,118.82 L163.00,118.56 L164.25,118.29 L165.50,118.02 L166.75,117.76 L168.00,117.50 L169.25,117.24 L170.50,116.99 L171.75,116.73 L173.00,116.48 L174.25,116.23 L175.50,115.98 L176.75,115.74 L178.00,115.50 L179.25,115.26 L180.48,115.02 L181.72,114.79 L182.96,114.56 L184.20,114.33 L185.45,114.11 L186.72,113.90 L188.00,113.70 L189.31,113.51 L190.64,113.34 L191.98,113.18 L193.33,113.02 L194.69,112.87 L196.04,112.72 L197.38,112.56 L198.70,112.40 L200.01,112.23 L201.31,112.05 L202.60,111.88 L203.89,111.70 L205.18,111.52 L206.46,111.35 L207.73,111.17 L209.00,111.00 L210.26,110.84 L211.51,110.68 L212.76,110.52 L214.00,110.37 L215.24,110.21 L216.49,110.05 L217.74,109.88 L219.00,109.70 L220.27,109.51 L221.54,109.31 L222.82,109.10 L224.11,108.88 L225.40,108.66 L226.69,108.44 L227.99,108.22 L229.30,108.00 L230.62,107.77 L231.95,107.54 L233.30,107.30 L234.64,107.06 L235.99,106.82 L237.34,106.60 L238.67,106.39 L240.00,106.20 L241.32,106.04 L242.63,105.90 L243.94,105.78 L245.24,105.66 L246.54,105.55 L247.83,105.45 L249.12,105.33 L250.40,105.20 L251.68,105.06 L252.94,104.92 L254.21,104.78 L255.46,104.64 L256.72,104.49 L257.98,104.33 L259.23,104.17 L260.50,104.00 L261.77,103.82 L263.03,103.62 L264.30,103.42 L265.56,103.21 L266.83,103.00 L268.11,102.80 L269.40,102.59 L270.70,102.40 L272.02,102.22 L273.35,102.04 L274.70,101.87 L276.06,101.70 L277.41,101.53 L278.76,101.36 L280.09,101.18 L281.40,101.00 L282.69,100.81 L283.96,100.61 L285.21,100.41 L286.46,100.20 L287.71,99.99 L288.96,99.79 L290.22,99.59 L291.50,99.40 L292.80,99.22 L294.11,99.05 L295.43,98.88 L296.76,98.71 L298.08,98.55 L299.40,98.37 L300.71,98.19 L302.00,98.00 L303.27,97.79 L304.52,97.57 L305.76,97.34 L306.99,97.11 L308.22,96.87 L309.46,96.64 L310.72,96.41 L312.00,96.20 L313.31,96.00 L314.64,95.80 L315.99,95.62 L317.35,95.43 L318.71,95.25 L320.06,95.07 L321.39,94.89 L322.70,94.70 L323.98,94.51 L325.25,94.33 L326.50,94.14 L327.74,93.95 L328.98,93.76 L330.22,93.58 L331.45,93.39 L332.70,93.20 L333.95,93.01 L335.19,92.83 L336.44,92.65 L337.68,92.47 L338.93,92.28 L340.18,92.10 L341.44,91.90 L342.70,91.70 L344.00,91.49 L345.33,91.26 L346.69,91.02 L348.04,90.78 L349.37,90.54 L350.65,90.31 L351.87,90.10 L353.00,89.90 L354.08,89.71 L355.15,89.53 L356.17,89.35 L357.14,89.19 L358.03,89.04 L358.82,88.90 L359.48,88.79 L360.00,88.70" fill="none" stroke="#f01010" stroke-width="1.4" stroke-dasharray="4.4,6.0" stroke-dashoffset="10.20"/>
<path d="M52.50,113.00 L53.50,113.04 L54.84,113.09 L56.44,113.15 L58.21,113.21 L60.06,113.28 L61.90,113.36 L63.64,113.43 L65.20,113.50 L66.60,113.57 L67.93,113.64 L69.22,113.70 L70.47,113.77 L71.71,113.85 L72.95,113.93 L74.20,114.01 L75.50,114.10 L76.81,114.20 L78.10,114.32 L79.39,114.44 L80.69,114.56 L82.02,114.69 L83.38,114.80 L84.81,114.91 L86.30,115.00 L87.76,115.08 L89.14,115.14 L90.51,115.20 L91.95,115.25 L93.54,115.29 L95.36,115.33 L97.49,115.37 L100.00,115.40 L103.04,115.43 L106.59,115.45 L110.50,115.46 L114.61,115.47 L118.77,115.48 L122.82,115.48 L126.62,115.49 L130.00,115.50 L132.98,115.51 L135.70,115.52 L138.23,115.53 L140.62,115.54 L142.94,115.55 L145.23,115.56 L147.57,115.58 L150.00,115.60 L152.50,115.63 L155.00,115.67 L157.50,115.72 L160.00,115.78 L162.50,115.82 L165.00,115.86 L167.50,115.89 L170.00,115.90 L172.50,115.89 L175.00,115.87 L177.50,115.84 L180.00,115.79 L182.50,115.75 L185.00,115.70 L187.50,115.65 L190.00,115.60 L192.56,115.55 L195.21,115.50 L197.90,115.44 L200.56,115.38 L203.16,115.32 L205.63,115.27 L207.93,115.23 L210.00,115.20 L211.81,115.20 L213.40,115.24 L214.81,115.29 L216.11,115.34 L217.32,115.39 L218.51,115.40 L219.72,115.38 L221.00,115.30 L222.32,115.15 L223.62,114.95 L224.91,114.71 L226.19,114.44 L227.46,114.16 L228.73,113.89 L230.01,113.63 L231.30,113.40 L232.60,113.20 L233.90,113.01 L235.20,112.84 L236.50,112.67 L237.80,112.50 L239.10,112.34 L240.40,112.17 L241.70,112.00 L242.99,111.82 L244.28,111.64 L245.56,111.46 L246.84,111.28 L248.13,111.10 L249.41,110.93 L250.70,110.76 L252.00,110.60 L253.30,110.44 L254.62,110.28 L255.94,110.13 L257.26,109.97 L258.58,109.83 L259.89,109.70 L261.20,109.59 L262.50,109.50 L263.79,109.44 L265.07,109.40 L266.34,109.38 L267.61,109.38 L268.87,109.37 L270.14,109.36 L271.42,109.34 L272.70,109.30 L273.99,109.24 L275.29,109.16 L276.59,109.08 L277.89,108.99 L279.20,108.90 L280.50,108.80 L281.80,108.70 L283.10,108.60 L284.39,108.50 L285.68,108.41 L286.96,108.31 L288.24,108.21 L289.53,108.10 L290.81,107.99 L292.10,107.85 L293.40,107.70 L294.71,107.53 L296.03,107.33 L297.36,107.13 L298.69,106.91 L300.01,106.68 L301.33,106.45 L302.62,106.22 L303.90,106.00 L305.15,105.78 L306.36,105.55 L307.57,105.32 L308.76,105.09 L309.95,104.86 L311.14,104.63 L312.36,104.41 L313.60,104.20 L314.87,104.00 L316.15,103.81 L317.45,103.62 L318.76,103.44 L320.08,103.26 L321.39,103.07 L322.70,102.89 L324.00,102.70 L325.29,102.51 L326.58,102.32 L327.87,102.13 L329.15,101.94 L330.43,101.74 L331.72,101.54 L333.01,101.32 L334.30,101.10 L335.60,100.86 L336.90,100.61 L338.21,100.34 L339.51,100.07 L340.82,99.79 L342.12,99.52 L343.41,99.26 L344.70,99.00 L346.03,98.74 L347.43,98.48 L348.85,98.21 L350.25,97.94 L351.59,97.69 L352.82,97.46 L353.91,97.26 L354.80,97.10 L355.48,96.98 L356.00,96.89 L356.37,96.82 L356.63,96.78 L356.81,96.75 L356.95,96.74 L357.07,96.72 L357.20,96.70" fill="none" stroke="#101070" stroke-width="1.4" stroke-dasharray="4.3,6.11" stroke-dashoffset="0.00"/>
<path d="M52.50,114.60 L52.81,114.88 L53.21,115.25 L53.69,115.69 L54.23,116.18 L54.80,116.70 L55.39,117.22 L55.96,117.73 L56.50,118.20 L57.01,118.64 L57.53,119.08 L58.04,119.51 L58.56,119.94 L59.09,120.37 L59.63,120.81 L60.20,121.25 L60.80,121.70 L61.43,122.16 L62.09,122.64 L62.78,123.13 L63.48,123.62 L64.19,124.11 L64.90,124.59 L65.61,125.05 L66.30,125.50 L66.98,125.93 L67.66,126.35 L68.33,126.77 L69.01,127.17 L69.68,127.56 L70.35,127.95 L71.03,128.33 L71.70,128.70 L72.37,129.07 L73.03,129.43 L73.69,129.78 L74.34,130.13 L75.01,130.47 L75.69,130.79 L76.38,131.10 L77.10,131.40 L77.84,131.68 L78.60,131.93 L79.38,132.17 L80.17,132.39 L80.97,132.62 L81.78,132.84 L82.59,133.06 L83.40,133.30 L84.21,133.55 L85.01,133.80 L85.81,134.06 L86.62,134.32 L87.45,134.57 L88.30,134.83 L89.18,135.07 L90.10,135.30 L91.07,135.52 L92.10,135.75 L93.17,135.96 L94.26,136.18 L95.34,136.38 L96.41,136.57 L97.43,136.74 L98.40,136.90 L99.26,137.04 L100.01,137.15 L100.70,137.25 L101.38,137.34 L102.10,137.43 L102.91,137.51 L103.86,137.60 L105.00,137.70 L106.36,137.81 L107.91,137.93 L109.61,138.06 L111.39,138.18 L113.21,138.30 L115.02,138.41 L116.76,138.52 L118.40,138.60 L119.92,138.66 L121.38,138.71 L122.80,138.73 L124.20,138.76 L125.60,138.78 L127.02,138.80 L128.48,138.84 L130.00,138.90 L131.59,138.97 L133.23,139.06 L134.90,139.15 L136.59,139.25 L138.30,139.36 L140.01,139.47 L141.72,139.58 L143.40,139.70 L145.10,139.82 L146.85,139.96 L148.61,140.09 L150.37,140.24 L152.08,140.38 L153.73,140.53 L155.28,140.67 L156.70,140.80 L157.97,140.93 L159.11,141.06 L160.15,141.18 L161.12,141.31 L162.06,141.43 L162.99,141.55 L163.96,141.68 L165.00,141.80 L166.11,141.93 L167.25,142.08 L168.41,142.23 L169.58,142.38 L170.74,142.51 L171.87,142.63 L172.97,142.73 L174.00,142.80 L174.97,142.84 L175.87,142.84 L176.74,142.83 L177.58,142.80 L178.41,142.76 L179.25,142.71 L180.11,142.65 L181.00,142.60 L181.89,142.55 L182.74,142.51 L183.59,142.46 L184.45,142.41 L185.36,142.34 L186.36,142.25 L187.46,142.14 L188.70,142.00 L190.14,141.82 L191.78,141.61 L193.54,141.37 L195.38,141.11 L197.22,140.84 L199.00,140.58 L200.64,140.33 L202.10,140.10 L203.35,139.90 L204.44,139.72 L205.41,139.55 L206.32,139.39 L207.20,139.22 L208.09,139.04 L209.05,138.83 L210.10,138.60 L211.24,138.34 L212.41,138.05 L213.61,137.74 L214.84,137.42 L216.09,137.10 L217.38,136.76 L218.68,136.43 L220.00,136.10 L221.34,135.78 L222.69,135.47 L224.07,135.16 L225.47,134.84 L226.90,134.52 L228.36,134.17 L229.86,133.80 L231.40,133.40 L232.97,132.97 L234.57,132.52 L236.19,132.06 L237.85,131.57 L239.55,131.06 L241.31,130.53 L243.12,129.98 L245.00,129.40 L246.99,128.79 L249.10,128.12 L251.28,127.43 L253.51,126.72 L255.74,126.01 L257.92,125.31 L260.02,124.64 L262.00,124.00 L263.85,123.41 L265.61,122.84 L267.29,122.30 L268.93,121.77 L270.54,121.24 L272.14,120.71 L273.75,120.17 L275.40,119.60 L277.07,119.01 L278.73,118.41 L280.39,117.79 L282.05,117.17 L283.71,116.54 L285.37,115.92 L287.03,115.31 L288.70,114.70 L290.39,114.09 L292.12,113.48 L293.87,112.86 L295.61,112.25 L297.33,111.65 L298.99,111.07 L300.59,110.52 L302.10,110.00 L303.48,109.54 L304.74,109.13 L305.92,108.76 L307.05,108.41 L308.18,108.04 L309.36,107.65 L310.62,107.21 L312.00,106.70 L313.51,106.11 L315.11,105.46 L316.77,104.76 L318.49,104.03 L320.23,103.29 L321.97,102.54 L323.71,101.81 L325.40,101.10 L327.07,100.41 L328.73,99.72 L330.39,99.04 L332.05,98.36 L333.71,97.68 L335.37,97.01 L337.03,96.35 L338.70,95.70 L340.40,95.05 L342.15,94.40 L343.92,93.74 L345.69,93.10 L347.41,92.48 L349.08,91.88 L350.65,91.32 L352.10,90.80 L353.47,90.31 L354.81,89.85 L356.09,89.40 L357.29,88.99 L358.38,88.62 L359.35,88.29 L360.16,88.02 L360.80,87.80" fill="none" stroke="#ff1010" stroke-width="1.25"/>
<path d="M52.5,103.4 L56.4,101.6" stroke="#0cf6f6" stroke-width="1.4" fill="none"/>
<path d="M63.6,98.4 L67.4,96.8" stroke="#0cf6f6" stroke-width="1.4" fill="none"/>
<path d="M78.5,91.5 L81.6,90.1" stroke="#0cf6f6" stroke-width="1.4" fill="none"/>
<path d="M84,88.8 L86.9,87.5" stroke="#0cf6f6" stroke-width="1.4" fill="none"/>
<path d="M89.8,86.2 L92.8,85" stroke="#0cf6f6" stroke-width="1.4" fill="none"/>
<path d="M103.2,78.2 L106.4,76.5" stroke="#0cf6f6" stroke-width="1.4" fill="none"/>
<path d="M108.2,75.5 L111.9,73.8" stroke="#0cf6f6" stroke-width="1.4" fill="none"/>
<path d="M113.8,72.9 L117.6,72.3" stroke="#0cf6f6" stroke-width="1.4" fill="none"/>
<path d="M52.5,215.3 L360.8,215.3" stroke="#000" stroke-width="1.2" stroke-dasharray="4.5,5.87" fill="none"/>
<path d="M52.5,7.05 L361.5,7.05" stroke="#747474" stroke-width="1.35" fill="none"/>
<path d="M360.95,6.45 L360.95,283.7" stroke="#5a5a5a" stroke-width="1.35" fill="none"/>
<path d="M52.5,6.25 L52.5,283.7 L361.8,283.7" stroke="#222" stroke-width="1.2" fill="none"/>
<path d="M109.9,247.3 h4.3 M120.2,247.3 h4.4" stroke="#000" stroke-width="1.3" fill="none"/>
<rect x="109.9" y="252.45000000000002" width="21.0" height="4.3" fill="#00ff00"/>
<rect x="109.9" y="259.9" width="21.0" height="4.3" fill="#ffff00"/>
<path d="M109.9,269.1 L130.9,269.1" stroke="#ff1010" stroke-width="1.2"/>
<path d="M109.9,276.4 h1.8 M116.2,276.4 h12.6" stroke="#ee80ee" stroke-width="1.2" fill="none"/>
<path d="M235.3,247.3 h4.5 M245.8,247.3 h4.5" stroke="#101080" stroke-width="1.3" fill="none"/>
<path d="M235.3,254.55 h4.5 M245.8,254.55 h4.5" stroke="#f01010" stroke-width="1.3" fill="none"/>
<path d="M235.3,262.0 h8.4 M248.0,262.0 h8" stroke="#ffa60a" stroke-width="1.4" fill="none"/>
<path d="M235.3,269.1 h12.3 M252.10000000000002,269.1 h1.8" stroke="#a9d9e9" stroke-width="1.2" fill="none"/>
<path d="M235.3,276.4 h3.6 M241.70000000000002,276.4 h3.4 M247.9,276.4 h3.2" stroke="#0cf6f6" stroke-width="1.3" fill="none"/>
</svg>
<div id="t">
<div class="yt" style="top:2.6px">10<span class="sup">-21</span></div>
<div class="yt" style="top:48.8px">10<span class="sup">-22</span></div>
<div class="yt" style="top:94.9px">10<span class="sup">-23</span></div>
<div class="yt" style="top:141.0px">10<span class="sup">-24</span></div>
<div class="yt" style="top:187.1px">10<span class="sup">-25</span></div>
<div class="yt" style="top:233.2px">10<span class="sup">-26</span></div>
<div class="yt" style="top:279.3px">10<span class="sup">-27</span></div>
<div class="xt" style="left:43.4px">1</div>
<div class="xt" style="left:198.6px">10</div>
<div class="xt" style="left:352.9px">100</div>
<div class="lg" style="left:135.5px;top:242.7px">Thermal Relic DM</div>
<div class="lg" style="left:135.5px;top:250.0px">LHAASO 95% Containment</div>
<div class="lg" style="left:135.5px;top:257.4px">LHAASO 68% Containment</div>
<div class="lg" style="left:135.5px;top:264.5px">LHAASO Combined</div>
<div class="lg" style="left:135.5px;top:271.8px">Fermi Combined</div>
<div class="lg" style="left:260.5px;top:242.7px">HAWC w/o Trill</div>
<div class="lg" style="left:260.5px;top:250.0px">HAWC w/ Trill</div>
<div class="lg" style="left:260.5px;top:257.4px">MAGIC Segue1</div>
<div class="lg" style="left:260.5px;top:264.5px">VERITAS Combined</div>
<div class="lg" style="left:260.5px;top:271.8px">HESS Segue1</div>
<div id="xl">m<sub>DM</sub> [TeV]</div>
<div id="yl"><span class="ab">&lt;</span>&sigma;v<span class="ab">&gt;</span><span style="margin-left:4.8px">[cm</span><sup style="margin-left:1px">3</sup><span style="margin-left:3.8px">s</span><sup style="margin-left:1.1px;letter-spacing:0.5px">-1</sup><span style="margin-left:2px">]</span></div>
<div id="tau">&tau;<sup>+</sup>&tau;<sup>-</sup></div>
</div>
</div>
</body></html>
